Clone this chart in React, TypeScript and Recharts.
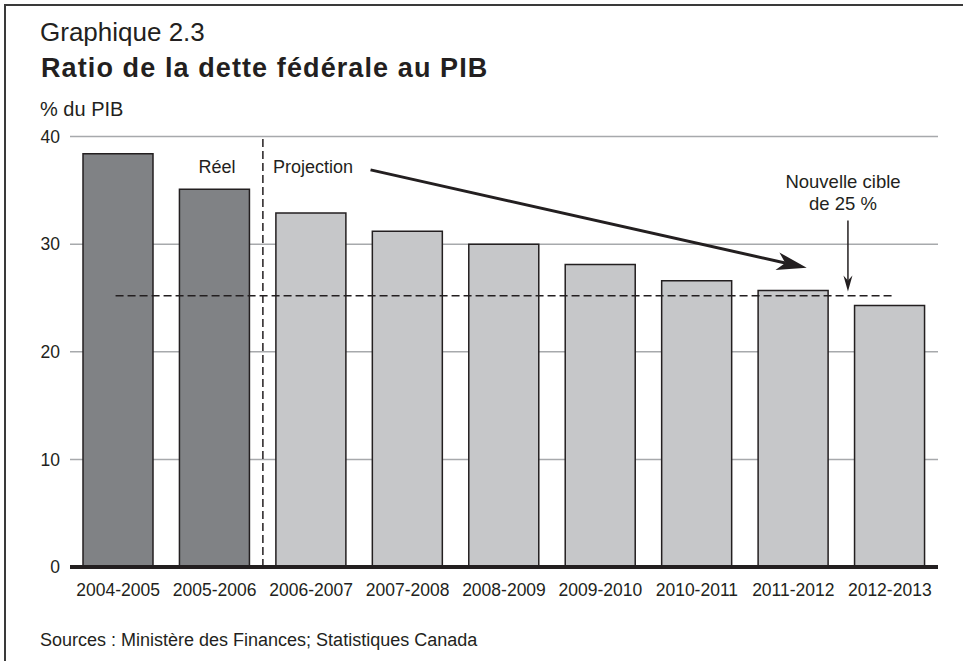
import React from "react";
import {
  BarChart,
  Bar,
  XAxis,
  YAxis,
  CartesianGrid,
  ReferenceLine,
  Cell,
} from "recharts";

const YEARS = [
  "2004-2005",
  "2005-2006",
  "2006-2007",
  "2007-2008",
  "2008-2009",
  "2009-2010",
  "2010-2011",
  "2011-2012",
  "2012-2013",
];
const RATIO = [38.4, 35.1, 32.9, 31.2, 30.0, 28.1, 26.6, 25.7, 24.3];
const ACTUAL_COUNT = 2; // first two years are actuals, the rest projections
const Y_TICKS = [0, 10, 20, 30, 40];
const TARGET = 25.2;

const data = YEARS.map((year, i) => ({ year, ratio: RATIO[i] }));

const INK = "#231f20";
const DARK = "#808285";
const LIGHT = "#c6c7c9";
const GRID = "#a7a9ac";
const FONT = "'Liberation Sans', Arial, Helvetica, sans-serif";

// arrowhead drawn at the end (x2,y2) of a ReferenceLine segment
function arrowShape(len: number, half: number, notch: number, width: number) {
  return (props: any) => {
    const { x1, y1, x2, y2 } = props;
    const dx = x2 - x1;
    const dy = y2 - y1;
    const d = Math.sqrt(dx * dx + dy * dy) || 1;
    const ux = dx / d;
    const uy = dy / d;
    const nx = -uy;
    const ny = ux;
    const bx = x2 - len * ux;
    const by = y2 - len * uy;
    const mx = x2 - (len - notch) * ux;
    const my = y2 - (len - notch) * uy;
    const pts = [
      [x2, y2],
      [bx + half * nx, by + half * ny],
      [mx, my],
      [bx - half * nx, by - half * ny],
    ]
      .map((p) => p.join(","))
      .join(" ");
    return (
      <g>
        <line x1={x1} y1={y1} x2={mx} y2={my} stroke={INK} strokeWidth={width} />
        <polygon points={pts} fill={INK} />
      </g>
    );
  };
}

export default function App() {
  return (
    <div
      style={{
        position: "absolute",
        left: 0,
        top: 0,
        width: 963,
        height: 661,
        overflow: "hidden",
        background: "#fff",
        fontFamily: FONT,
      }}
    >
      <div
        style={{
          position: "absolute",
          left: 4,
          top: 4,
          width: 957,
          height: 655,
          borderTop: "2px solid #3a3a3a",
          borderLeft: "2px solid #3a3a3a",
        }}
      />
      <svg
        width={963}
        height={661}
        style={{ position: "absolute", left: 0, top: 0 }}
        fontFamily={FONT}
        fill={INK}
      >
        <text x={40} y={41} fontSize={26}>
          Graphique 2.3
        </text>
        <text x={41} y={77} fontSize={27} fontWeight="bold" letterSpacing={1.1}>
          Ratio de la dette fédérale au PIB
        </text>
        <text x={40} y={116} fontSize={20}>
          % du PIB
        </text>
        <text x={217} y={173} fontSize={18} textAnchor="middle">
          Réel
        </text>
        <text x={273} y={173} fontSize={18}>
          Projection
        </text>
        <text x={843} y={188} fontSize={18.5} textAnchor="middle">
          Nouvelle cible
        </text>
        <text x={843} y={210} fontSize={18.5} textAnchor="middle">
          de 25 %
        </text>
        <text x={40} y={646} fontSize={18}>
          Sources : Ministère des Finances; Statistiques Canada
        </text>
      </svg>
      <div style={{ position: "absolute", left: 0, top: 0 }}>
        <BarChart
          width={963}
          height={661}
          data={data}
          margin={{ top: 136.5, right: 25, left: 10, bottom: 64 }}
          barCategoryGap={0}
        >
          <CartesianGrid vertical={false} stroke={GRID} strokeWidth={1.5} />
          <XAxis
            dataKey="year"
            tickLine={false}
            tickSize={0}
            tickMargin={17}
            axisLine={{ stroke: INK, strokeWidth: 4 }}
            tick={{ fill: INK, fontSize: 17.5, fontFamily: FONT }}
            interval={0}
          />
          {/* hidden linear axis used only to place the annotations */}
          <XAxis xAxisId="n" type="number" domain={[0, 8]} hide allowDataOverflow />
          <YAxis
            domain={[0, 40]}
            ticks={Y_TICKS}
            axisLine={false}
            tickLine={false}
            tickSize={0}
            tickMargin={10}
            width={60}
            tick={{ fill: INK, fontSize: 17.5, fontFamily: FONT }}
          />
          <Bar
            dataKey="ratio"
            barSize={70}
            stroke={INK}
            strokeWidth={1.5}
            isAnimationActive={false}
          >
            {data.map((_, i) => (
              <Cell key={i} fill={i < ACTUAL_COUNT ? DARK : LIGHT} />
            ))}
          </Bar>
          <ReferenceLine
            x={YEARS[ACTUAL_COUNT]}
            position="start"
            stroke={INK}
            strokeWidth={1.5}
            strokeDasharray="8 4"
          />
          <ReferenceLine
            xAxisId="n"
            segment={[
              { x: 0.42, y: TARGET },
              { x: 7.58, y: TARGET },
            ]}
            stroke={INK}
            strokeWidth={1.5}
            strokeDasharray="8 4"
          />
          <ReferenceLine
            xAxisId="n"
            segment={[
              { x: 2.77, y: 36.9 },
              { x: 6.79, y: 27.8 },
            ]}
            shape={arrowShape(30, 9, 8, 3)}
          />
          <ReferenceLine
            xAxisId="n"
            segment={[
              { x: 7.17, y: 32.2 },
              { x: 7.17, y: 25.6 },
            ]}
            shape={arrowShape(16, 4.5, 5, 1.5)}
          />
        </BarChart>
      </div>
    </div>
  );
}
